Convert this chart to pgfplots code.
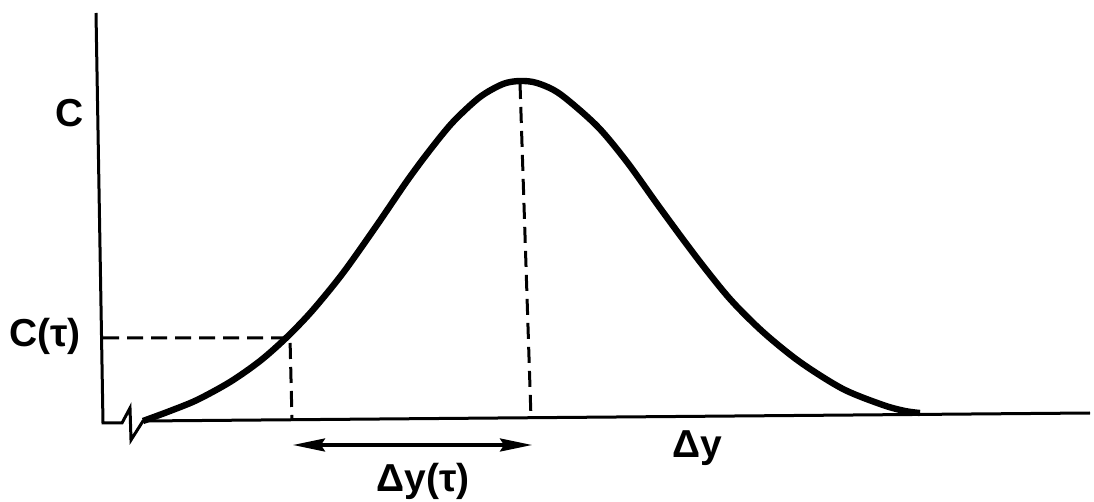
\documentclass[border=0pt]{standalone}
\usepackage{pgfplots}
\pgfplotsset{compat=1.18}
\usepackage{fontspec}
\setmainfont{Liberation Sans}
\usetikzlibrary{arrows.meta}
\tikzset{lbl/.style={inner sep=0pt, anchor=base,
    font=\bfseries\fontsize{19.5}{20}\selectfont}}

\begin{document}
\begin{tikzpicture}
\begin{axis}[
  hide axis,
  scale only axis,
  width=547pt, height=251pt,
  xmin=0, xmax=1094, ymin=0, ymax=502,
  y dir=reverse,
  clip=false,
]
% concentration profile
\addplot[black, line width=3.2pt, smooth] coordinates {
  (143,421) (170,411) (197,400) (230,382) (260,361) (286,338) (312,311)
  (343,273) (377,225) (407,181) (430,150) (453,122) (480,97) (503,84)
  (520,81) (537,83) (560,94) (597,126) (627,162) (660,208) (697,258)
  (730,299) (763,332) (800,362) (843,389) (883,405) (905,411) (920,413)
};
% axes with the break near the origin
\addplot[black, line width=1.5pt] coordinates {(96,13) (103,423) (122,423) (130,408) (131,440) (143,421) (1090,413)};
% C(tau) guide lines
\addplot[black, line width=1.5pt, dash pattern=on 8pt off 4pt] coordinates {(103,338) (290,338) (292,420)};
% peak guide line
\addplot[black, line width=1.5pt, dash pattern=on 8pt off 4pt] coordinates {(520,83) (531,418)};
% distance arrow
\addplot[black, line width=1.6pt, {Stealth[length=16pt,width=6.5pt,inset=2pt]}-{Stealth[length=16pt,width=6.5pt,inset=2pt]}] coordinates {(293,445) (532,445)};

\node[lbl] at (axis cs:70,127) {C};
\node[lbl] at (axis cs:45,347) {C(τ)};
\node[lbl] at (axis cs:423,492) {Δy(τ)};
\node[lbl] at (axis cs:697,458) {Δy};
\end{axis}
% the page is exactly the plotting area
\pgfresetboundingbox
\path (current axis.south west) rectangle (current axis.north east);
\end{tikzpicture}
\end{document}
